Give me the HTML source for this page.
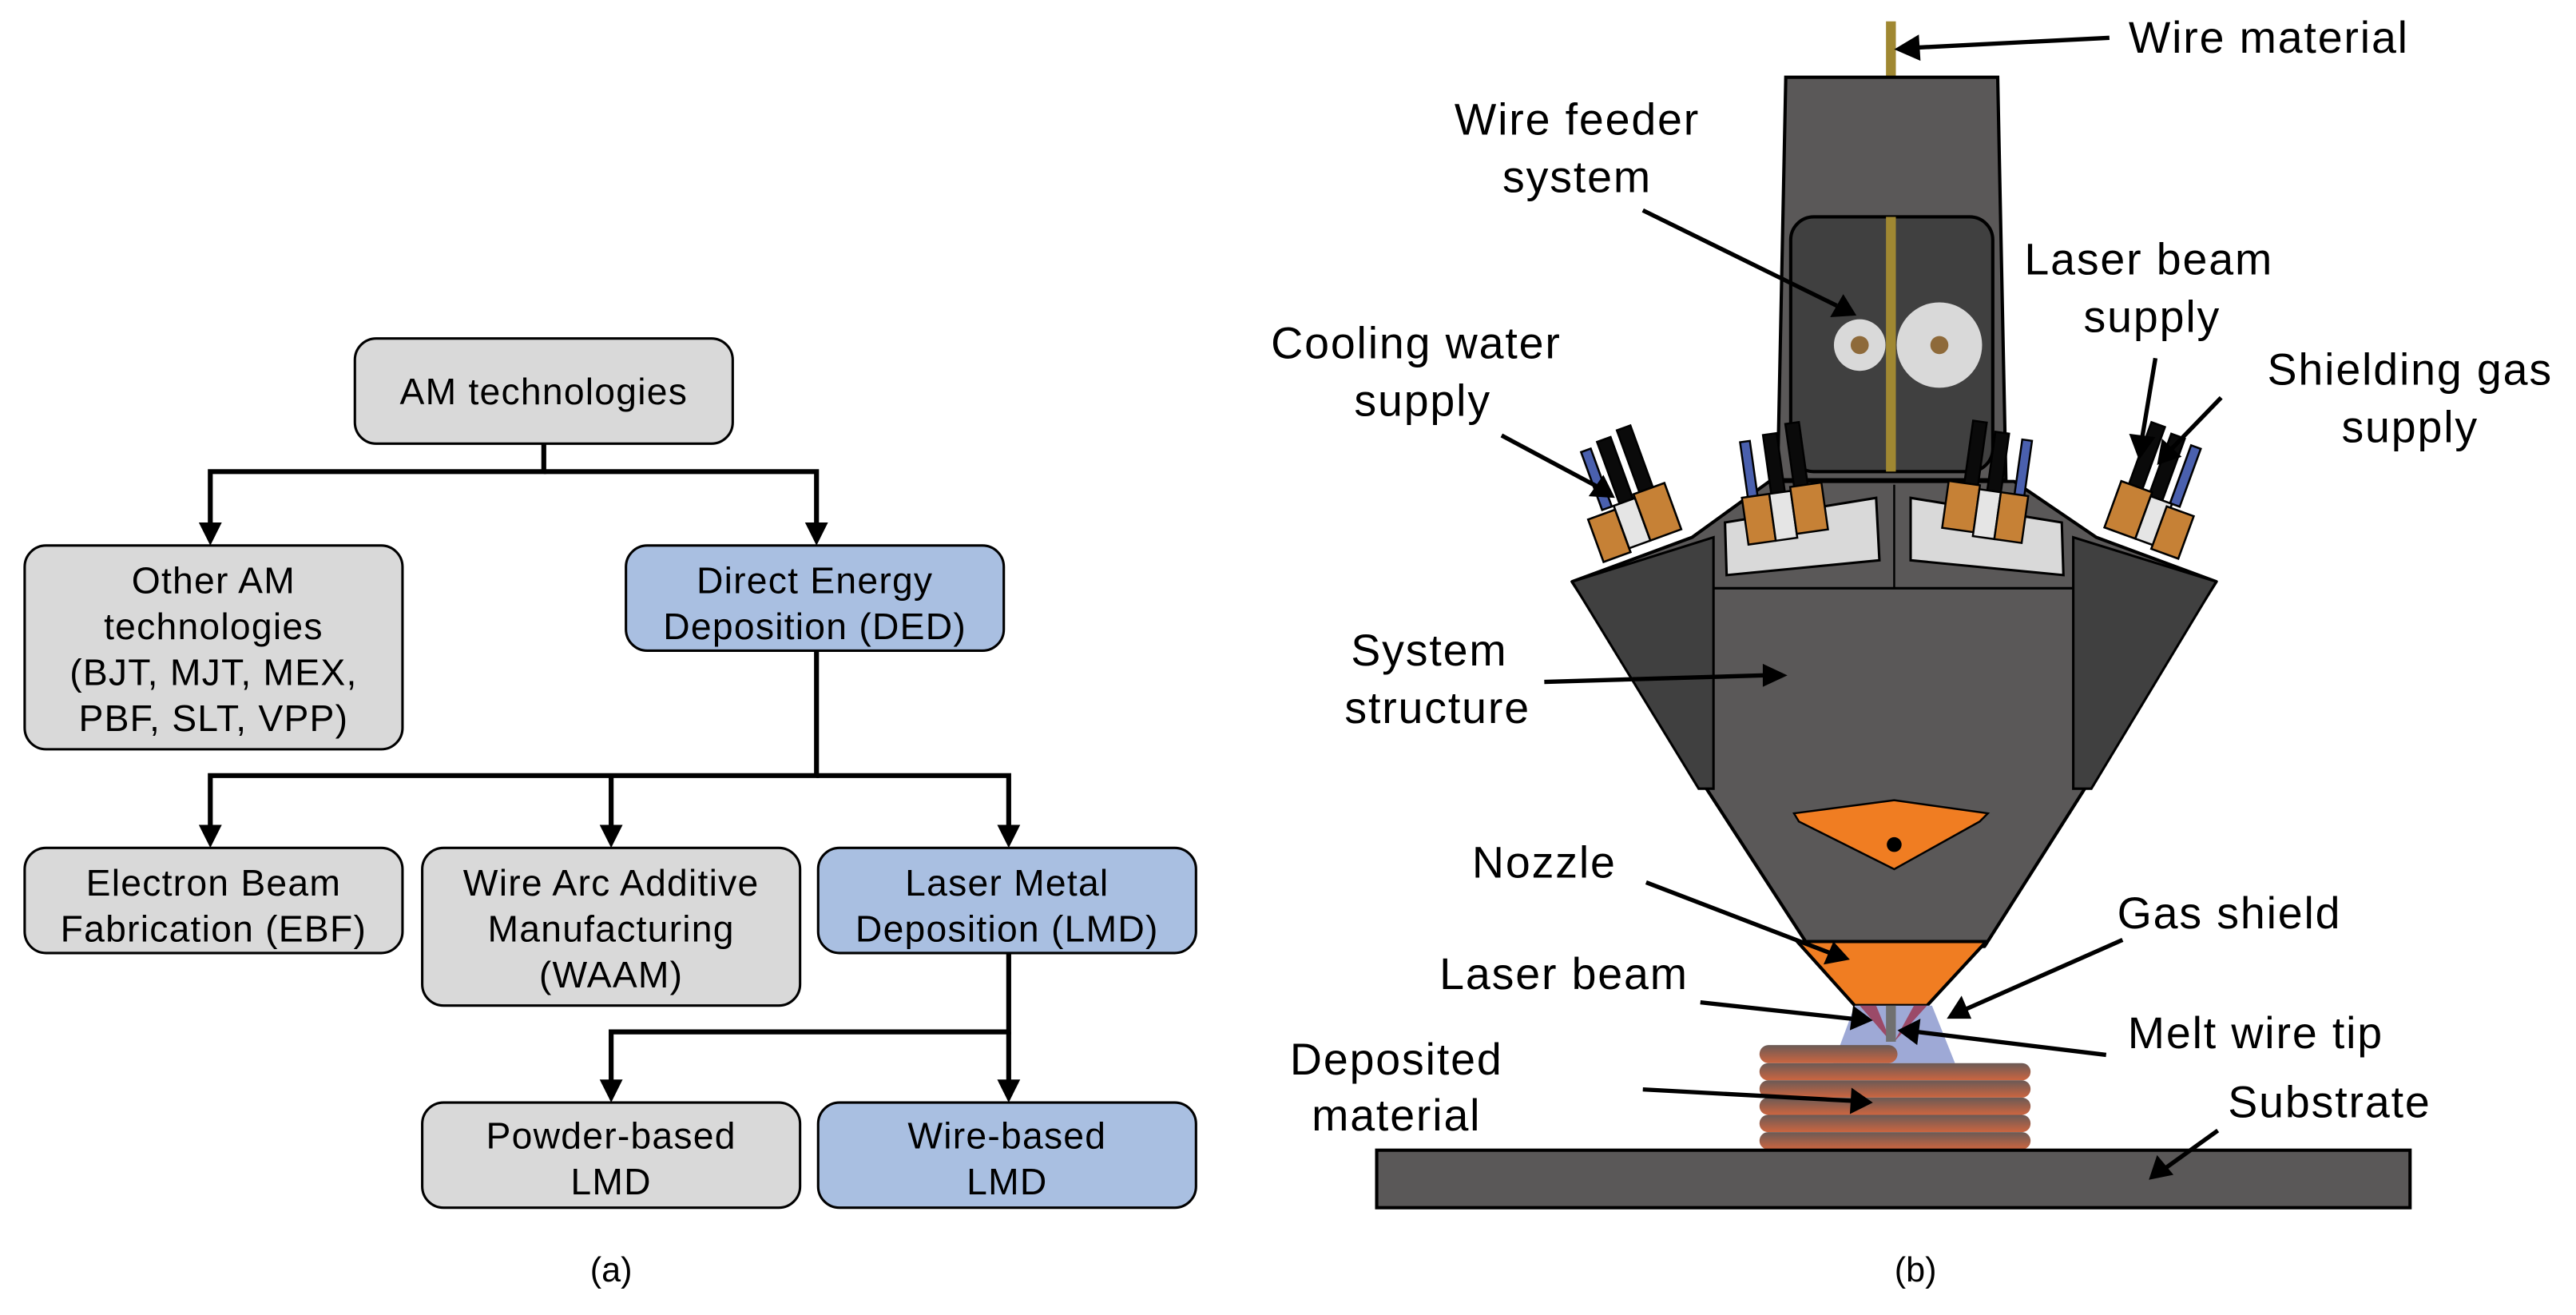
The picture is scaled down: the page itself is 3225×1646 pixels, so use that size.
<!DOCTYPE html>
<html><head><meta charset="utf-8"><style>
html,body{margin:0;padding:0;background:#fff;}
svg{display:block;}
text{font-family:"Liberation Sans",sans-serif;fill:#000;}
</style></head><body>
<svg width="3225" height="1646" viewBox="0 0 1568 800.3" xmlns="http://www.w3.org/2000/svg">
<defs>
<linearGradient id="bar" x1="0" y1="0" x2="0" y2="1">
<stop offset="0" stop-color="#6a5a56"/><stop offset="1" stop-color="#cc6540"/>
</linearGradient>
</defs>

<!-- ===== Panel (a) ===== -->
<g stroke="#000" stroke-width="1.5">
<rect x="216" y="206" width="230" height="64" rx="13" fill="#d9d9d9"/>
<rect x="15" y="332" width="230" height="124" rx="13" fill="#d9d9d9"/>
<rect x="381" y="332" width="230" height="64" rx="13" fill="#a9bfe1"/>
<rect x="15" y="516" width="230" height="64" rx="13" fill="#d9d9d9"/>
<rect x="257" y="516" width="230" height="96" rx="13" fill="#d9d9d9"/>
<rect x="498" y="516" width="230" height="64" rx="13" fill="#a9bfe1"/>
<rect x="257" y="671" width="230" height="64" rx="13" fill="#d9d9d9"/>
<rect x="498" y="671" width="230" height="64" rx="13" fill="#a9bfe1"/>
</g>
<g stroke="#000" stroke-width="3" fill="none">
<polyline points="331,270 331,287 128,287 128,320"/>
<polyline points="331,287 497,287 497,320"/>
<polyline points="497,396 497,472 128,472 128,504"/>
<polyline points="372,472 372,504"/>
<polyline points="497,472 614,472 614,504"/>
<polyline points="614,580 614,628 372,628 372,659"/>
<polyline points="614,628 614,659"/>
</g>
<g fill="#000">
<polygon points="121,318 135,318 128,332"/>
<polygon points="490,318 504,318 497,332"/>
<polygon points="121,502 135,502 128,516"/>
<polygon points="365,502 379,502 372,516"/>
<polygon points="607,502 621,502 614,516"/>
<polygon points="365,657 379,657 372,671"/>
<polygon points="607,657 621,657 614,671"/>
</g>
<g font-size="22.5" text-anchor="middle" letter-spacing="0.6">
<text x="331" y="246">AM technologies</text>
<text x="130" y="361">Other AM</text>
<text x="130" y="389">technologies</text>
<text x="130" y="417">(BJT, MJT, MEX,</text>
<text x="130" y="445">PBF, SLT, VPP)</text>
<text x="496" y="361">Direct Energy</text>
<text x="496" y="389">Deposition (DED)</text>
<text x="130" y="545">Electron Beam</text>
<text x="130" y="573">Fabrication (EBF)</text>
<text x="372" y="545">Wire Arc Additive</text>
<text x="372" y="573">Manufacturing</text>
<text x="372" y="601">(WAAM)</text>
<text x="613" y="545">Laser Metal</text>
<text x="613" y="573">Deposition (LMD)</text>
<text x="372" y="699">Powder-based</text>
<text x="372" y="727">LMD</text>
<text x="613" y="699">Wire-based</text>
<text x="613" y="727">LMD</text>
</g>
<text x="372" y="780" font-size="21" text-anchor="middle">(a)</text>

<!-- ===== Panel (b) ===== -->
<rect x="1148" y="13" width="6" height="35" fill="#a08832"/>
<polygon points="1087,47 1216,47 1221,292 1082,292" fill="#5a5858" stroke="#000" stroke-width="2"/>
<rect x="1090" y="132" width="123" height="155" rx="14" fill="#404040" stroke="#000" stroke-width="2"/>
<rect x="1148" y="132" width="6" height="155" fill="#a08832"/>
<circle cx="1132" cy="210" r="15.7" fill="#d9d9d9"/>
<circle cx="1132" cy="210" r="5.5" fill="#8e6a3a"/>
<circle cx="1180.5" cy="210" r="26" fill="#d9d9d9"/>
<circle cx="1180.5" cy="210" r="5.5" fill="#8e6a3a"/>

<polygon points="1077,293 1226,293 1276,327 1349,354 1208,576 1101,576 957,354 1030,327" fill="#5a5858" stroke="#000" stroke-width="2" stroke-linejoin="round"/>
<polygon points="957,354 1043,327 1043,480 1034,480" fill="#404040" stroke="#000" stroke-width="1.5"/>
<polygon points="1262,327 1349,354 1273,480 1262,480" fill="#404040" stroke="#000" stroke-width="1.5"/>
<line x1="1043" y1="358" x2="1262" y2="358" stroke="#000" stroke-width="1.5"/>
<line x1="1077" y1="293" x2="1226" y2="293" stroke="#000" stroke-width="1.5"/>
<line x1="1153" y1="295" x2="1153" y2="358" stroke="#000" stroke-width="1.2"/>
<polygon points="1050,318 1142,303 1144,341 1051,350" fill="#d9d9d9" stroke="#000" stroke-width="1.5"/>
<polygon points="1163,303 1255,318 1256,350 1163,341" fill="#d9d9d9" stroke="#000" stroke-width="1.5"/>

<g transform="translate(1000,320) rotate(-20) scale(1.25)" stroke="#000" stroke-width="1">
<rect x="-16" y="-44" width="5" height="30" fill="#4a60ae"/>
<rect x="-7" y="-46" width="7" height="32" fill="#0a0a0a"/>
<rect x="4" y="-48" width="7" height="32" fill="#0a0a0a"/>
<rect x="-24" y="-12" width="14" height="22" fill="#c68136"/>
<rect x="-10" y="-14" width="11" height="22" fill="#e5e5e5"/>
<rect x="1" y="-16" width="16" height="24" fill="#c68136"/>
</g>
<g transform="translate(1092,313) rotate(-8) scale(1.2)" stroke="#000" stroke-width="1">
<rect x="-22" y="-40" width="5" height="30" fill="#4a60ae"/>
<rect x="-10" y="-42" width="7" height="32" fill="#0a0a0a"/>
<rect x="2" y="-46" width="7" height="34" fill="#0a0a0a"/>
<rect x="-25" y="-12" width="14" height="24" fill="#c68136"/>
<rect x="-11" y="-12" width="11" height="24" fill="#e5e5e5"/>
<rect x="0" y="-14" width="16" height="24" fill="#c68136"/>
</g>
<g transform="translate(1210,313) rotate(8) scale(1.2)" stroke="#000" stroke-width="1">
<rect x="-14" y="-46" width="7" height="34" fill="#0a0a0a"/>
<rect x="-2" y="-42" width="7" height="32" fill="#0a0a0a"/>
<rect x="12" y="-40" width="5" height="30" fill="#4a60ae"/>
<rect x="-22" y="-14" width="16" height="24" fill="#c68136"/>
<rect x="-6" y="-12" width="11" height="24" fill="#e5e5e5"/>
<rect x="5" y="-12" width="14" height="24" fill="#c68136"/>
</g>
<g transform="translate(1302,318) rotate(20) scale(1.25)" stroke="#000" stroke-width="1">
<rect x="-11" y="-48" width="7" height="32" fill="#0a0a0a"/>
<rect x="0" y="-46" width="7" height="32" fill="#0a0a0a"/>
<rect x="11" y="-44" width="5" height="30" fill="#4a60ae"/>
<rect x="-15" y="-16" width="16" height="24" fill="#c68136"/>
<rect x="1" y="-14" width="11" height="22" fill="#e5e5e5"/>
<rect x="10" y="-12" width="14" height="22" fill="#c68136"/>
</g>

<polygon points="1092,495 1153,487 1210,495 1205,500 1153,529 1095,500" fill="#f07d22" stroke="#000" stroke-width="1.2"/>
<circle cx="1153" cy="514" r="4.5" fill="#000"/>
<polygon points="1094,573 1209,573 1173,612 1129,612" fill="#f07d22" stroke="#000" stroke-width="2"/>
<polygon points="1129,612 1176,612 1190,647 1116,647" fill="#9ea9d6"/>
<polygon points="1132,612 1142,612 1151,634" fill="#9b4a68"/>
<polygon points="1165,612 1173,612 1153,634" fill="#9b4a68"/>
<rect x="1148" y="612" width="6" height="22" fill="#707070"/>
<g fill="url(#bar)">
<rect x="1071" y="636" width="84" height="11" rx="5.5"/>
<rect x="1071" y="647" width="165" height="10.5" rx="5.2"/>
<rect x="1071" y="657.5" width="165" height="10.5" rx="5.2"/>
<rect x="1071" y="668" width="165" height="10.5" rx="5.2"/>
<rect x="1071" y="678.5" width="165" height="10.5" rx="5.2"/>
<rect x="1071" y="689" width="165" height="10.5" rx="5.2"/>
</g>
<rect x="838" y="700" width="629" height="35" fill="#5a5858" stroke="#000" stroke-width="2"/>

<g stroke="#000" stroke-width="2.6" fill="none">
<line x1="1284" y1="23" x2="1166" y2="29"/>
<line x1="1000" y1="128" x2="1118" y2="186"/>
<line x1="914" y1="265" x2="972" y2="296"/>
<line x1="1312" y1="218" x2="1304" y2="266"/>
<line x1="1352" y1="242" x2="1322" y2="273"/>
<line x1="940" y1="415" x2="1074" y2="411"/>
<line x1="1002" y1="537" x2="1114" y2="580"/>
<line x1="1292" y1="572" x2="1197" y2="614"/>
<line x1="1035" y1="610" x2="1127" y2="620"/>
<line x1="1282" y1="642" x2="1167" y2="628"/>
<line x1="1000" y1="663" x2="1128" y2="670"/>
<line x1="1350" y1="688" x2="1318" y2="711"/>
</g>
<g fill="#000">
<polygon points="1153,30 1168,21 1169,37"/>
<polygon points="1130,192 1114,193 1122,179"/>
<polygon points="983,303 967,302 976,289"/>
<polygon points="1302,280 1296,264 1312,266"/>
<polygon points="1313,283 1316,267 1328,278"/>
<polygon points="1088,411 1073,418 1073,404"/>
<polygon points="1126,584 1110,587 1116,573"/>
<polygon points="1185,620 1194,606 1200,620"/>
<polygon points="1140,621 1126,627 1128,612"/>
<polygon points="1155,627 1169,620 1167,636"/>
<polygon points="1140,671 1126,678 1127,662"/>
<polygon points="1308,718 1313,703 1323,715"/>
</g>

<g font-size="27" text-anchor="middle" letter-spacing="0.9">
<text x="1381" y="32">Wire material</text>
<text x="960" y="82">Wire feeder</text>
<text x="960" y="117">system</text>
<text x="1308" y="167">Laser beam</text>
<text x="1310" y="202">supply</text>
<text x="862" y="218">Cooling water</text>
<text x="866" y="253">supply</text>
<text x="1467" y="234">Shielding gas</text>
<text x="1467" y="269">supply</text>
<text x="870" y="405">System</text>
<text x="875" y="440">structure</text>
<text x="940" y="534">Nozzle</text>
<text x="1357" y="565">Gas shield</text>
<text x="952" y="602">Laser beam</text>
<text x="1373" y="638">Melt wire tip</text>
<text x="850" y="654">Deposited</text>
<text x="850" y="688">material</text>
<text x="1418" y="680">Substrate</text>
</g>
<text x="1166" y="780" font-size="21" text-anchor="middle">(b)</text>
</svg>
</body></html>
